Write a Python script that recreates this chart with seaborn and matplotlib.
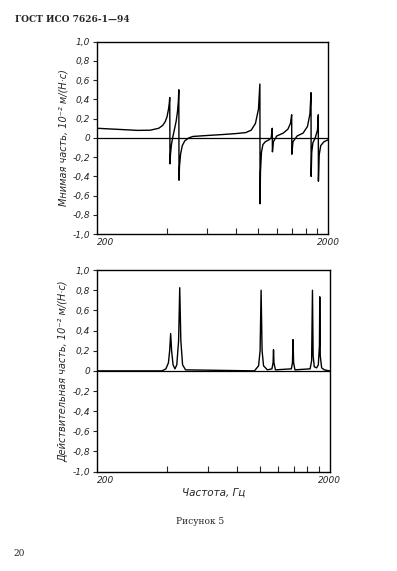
import matplotlib
matplotlib.use("Agg")
import matplotlib.pyplot as plt
import seaborn as sns
import pandas as pd

sns.set_theme(style="white")
plt.rcParams['font.family'] = ['DejaVu Sans']

# ---- data ----
imag_freq = [200, 250, 300, 340, 370, 385, 395, 402, 408, 411, 413, 414, 416, 420, 425, 432,
             440, 446, 450, 452, 453, 455, 460, 468, 480, 500, 520, 600, 700, 800, 880, 930,
             970, 1000, 1014, 1016, 1020, 1030, 1045, 1070, 1110, 1135, 1147, 1149, 1160, 1200,
             1280, 1340, 1375, 1392, 1394, 1410, 1470, 1560, 1630, 1670, 1688, 1690, 1700,
             1720, 1760, 1800, 1815, 1817, 1830, 1860, 1920, 2000]
imag_vals = [0.10, 0.088, 0.078, 0.08, 0.10, 0.13, 0.17, 0.22, 0.30, 0.36, 0.42, -0.27,
             -0.17, -0.07, 0.0, 0.08, 0.17, 0.27, 0.38, 0.50, -0.44, -0.30, -0.17, -0.08,
             -0.03, 0.0, 0.015, 0.025, 0.035, 0.045, 0.055, 0.08, 0.15, 0.30, 0.56, -0.685,
             -0.35, -0.15, -0.07, -0.04, -0.02, 0.0, 0.10, -0.145, -0.04, 0.02, 0.05, 0.09,
             0.15, 0.24, -0.17, -0.04, 0.02, 0.05, 0.12, 0.25, 0.47, -0.40, -0.15, -0.05, 0.0,
             0.08, 0.24, -0.45, -0.18, -0.08, -0.04, -0.02]

real_freq = [200, 380, 395, 405, 410, 414, 418, 424, 432, 440, 448, 453, 458, 466, 480, 950,
             990, 1005, 1015, 1025, 1040, 1080, 1130, 1143, 1148, 1153, 1170, 1370, 1385, 1393,
             1401, 1420, 1650, 1675, 1689, 1700, 1720, 1760, 1790, 1810, 1816, 1825, 1850,
             1900, 2000]
real_vals = [0.0, 0.0, 0.02, 0.08, 0.2, 0.37, 0.2, 0.06, 0.02, 0.06, 0.3, 0.825, 0.3, 0.06,
             0.01, 0.0, 0.05, 0.2, 0.80, 0.2, 0.05, 0.01, 0.02, 0.08, 0.21, 0.08, 0.01, 0.02,
             0.08, 0.31, 0.08, 0.01, 0.02, 0.1, 0.80, 0.15, 0.04, 0.03, 0.06, 0.25, 0.735,
             0.15, 0.03, 0.01, 0.0]

y_ticks = [-1.0, -0.8, -0.6, -0.4, -0.2, 0.0, 0.2, 0.4, 0.6, 0.8, 1.0]
y_tick_labels = ["-1,0", "-0,8", "-0,6", "-0,4", "-0,2", "0", "0,2", "0,4", "0,6", "0,8", "1,0"]
x_major = [200, 2000]
x_major_labels = ["200", "2000"]
x_minor = [400, 600, 800, 1000, 1200, 1400, 1600, 1800]

imag_df = pd.DataFrame({"f": imag_freq, "v": imag_vals})
real_df = pd.DataFrame({"f": real_freq, "v": real_vals})

fig = plt.figure(figsize=(3.97, 5.71), dpi=100)
fig.patch.set_facecolor("white")
ax1 = fig.add_axes([0.2443, 0.590, 0.582, 0.337])
ax2 = fig.add_axes([0.2450, 0.174, 0.585, 0.353])

tfont = dict(family="DejaVu Sans", style="italic", size=6.5)

for ax, df, ylab in [(ax1, imag_df, "Мнимая часть, 10⁻² м/(Н·с)"),
                     (ax2, real_df, "Действительная часть, 10⁻² м/(Н·с)")]:
    ax.axhline(0, color="black", lw=0.9, zorder=1)
    sns.lineplot(data=df, x="f", y="v", ax=ax, color="black", lw=1.0,
                 estimator=None, sort=False, zorder=2)
    ax.set_xscale("log")
    ax.set_xlim(200, 2000)
    ax.set_ylim(-1.0, 1.0)
    ax.set_yticks(y_ticks)
    ax.set_yticklabels(y_tick_labels, **tfont)
    ax.set_xticks(x_major)
    ax.set_xticklabels(x_major_labels, **tfont)
    ax.set_xticks(x_minor, minor=True)
    ax.set_xticklabels([], minor=True)
    ax.tick_params(axis="y", direction="out", length=3, width=0.8, pad=2, left=True)
    ax.tick_params(axis="x", which="major", length=0, pad=3, bottom=True)
    ax.tick_params(axis="x", which="minor", direction="in", length=4, width=0.8, bottom=True)
    labs = ax.get_xticklabels()
    labs[0].set_horizontalalignment("left")
    for s in ax.spines.values():
        s.set_color("black")
        s.set_linewidth(1.0)
    ax.set_ylabel(ylab, style="italic", size=7, labelpad=3)
    ax.set_xlabel("")
    ax.grid(False)

ax2.set_xlabel("Частота, Гц", style="italic", size=7.5, labelpad=2)

fig.text(0.038, 0.966, "ГОСТ ИСО 7626-1—94", family="DejaVu Serif", weight="bold",
         size=6.5, ha="left", va="center")
fig.text(0.503, 0.087, "Рисунок 5", family="DejaVu Serif", size=6.5, ha="center", va="center")
fig.text(0.035, 0.031, "20", family="DejaVu Serif", size=6.5, ha="left", va="center")

fig.savefig("out.png", dpi=100, facecolor="white")
